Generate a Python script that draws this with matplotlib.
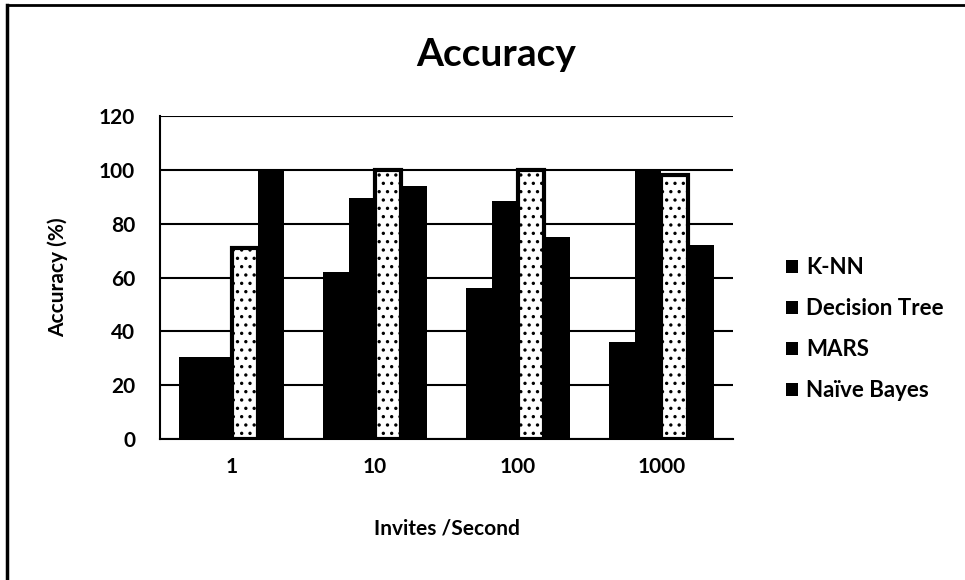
import numpy as np
import matplotlib
matplotlib.use('Agg')
import matplotlib.pyplot as plt
from matplotlib.patches import Patch

plt.rcParams['font.family'] = ['Lato', 'DejaVu Sans']
plt.rcParams['hatch.linewidth'] = 1.2

# data
rates = ['1', '10', '100', '1000']
methods = ['K-NN', 'Decision Tree', 'MARS', 'Naïve Bayes']
knn = [30.5, 62, 56, 36]
dtree = [30.5, 89.5, 88.5, 100]
mars = [71, 100, 100, 98]
nbayes = [100, 94, 75, 72]

fig = plt.figure(figsize=(9.65, 5.8), dpi=100)
ax = fig.add_axes([160/965, 1-439/580, 573/965, 323/580])

x = np.arange(len(rates))
w = 0.1825
ax.bar(x - 1.5*w, knn, w, color='black', zorder=3)
ax.bar(x - 0.5*w, dtree, w, color='black', zorder=3)
ax.bar(x + 0.5*w, mars, w, facecolor='white', edgecolor='black',
       linewidth=3, hatch='..', zorder=3)
ax.bar(x + 1.5*w, nbayes, w, color='black', zorder=3)

ax.set_xlim(-0.5, 3.5)
ax.set_ylim(0, 120)
ax.set_yticks(range(0, 121, 20))
ax.set_xticks(x)
ax.set_xticklabels(rates)
ax.yaxis.grid(True, color='black', linewidth=1.5, zorder=0)
for s in ['top', 'right']:
    ax.spines[s].set_visible(False)
ax.spines['left'].set_linewidth(1.5)
ax.spines['bottom'].set_linewidth(1.5)
ax.tick_params(length=0, labelsize=15)
ax.tick_params(axis='y', pad=18)
ax.tick_params(axis='x', pad=13)
for lab in ax.get_xticklabels() + ax.get_yticklabels():
    lab.set_fontweight('bold')

ax.set_ylabel('Accuracy (%)', fontsize=15, fontweight='bold', labelpad=22)
ax.set_xlabel('Invites /Second', fontsize=15, fontweight='bold', labelpad=30)
fig.text(496/965, 1-55/580, 'Accuracy', ha='center', va='center',
         fontsize=28, fontweight='bold')

handles = [Patch(facecolor='black') for m in methods]
fig.legend(handles, methods, loc='upper left', bbox_to_anchor=(775/965, 1-246/580),
           frameon=False, borderpad=0, handlelength=0.55, handleheight=0.55,
           handletextpad=0.35, labelspacing=0.9, prop={'weight': 'bold', 'size': 16})

# outer frame (left and top edges visible in the scan)
fig.add_artist(plt.Line2D([7/965, 7/965], [0, 1-5/580], color='black', linewidth=2.5,
                          transform=fig.transFigure))
fig.add_artist(plt.Line2D([7/965, 1], [1-5/580, 1-5/580], color='black', linewidth=2,
                          transform=fig.transFigure))

fig.savefig('out.png', dpi=100)
